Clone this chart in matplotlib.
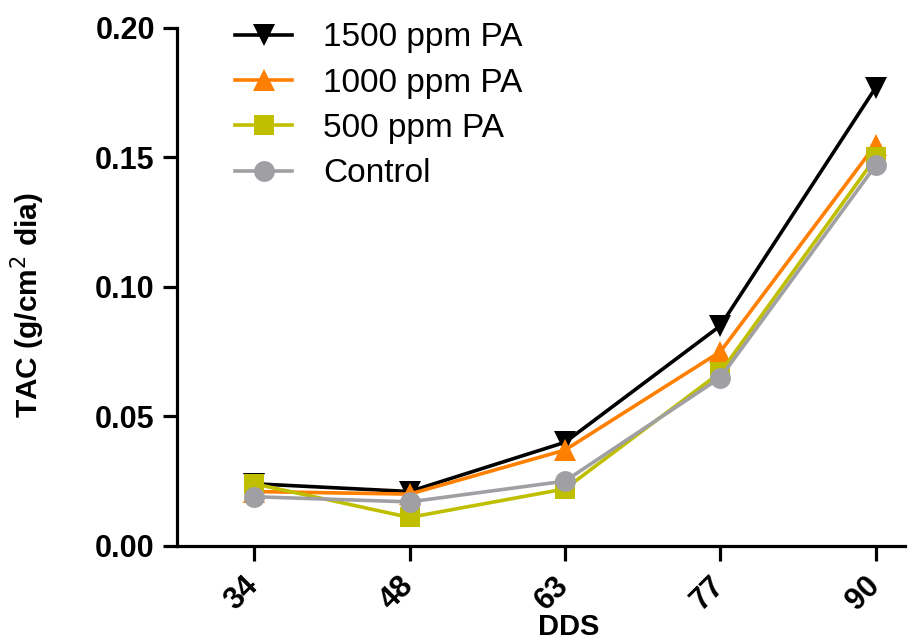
import matplotlib
matplotlib.use("Agg")
import matplotlib.pyplot as plt
import matplotlib.transforms as mtransforms
import numpy as np

plt.rcParams['font.family'] = ['Liberation Sans', 'DejaVu Sans']

days = ["34", "48", "63", "77", "90"]
pa1500 = [0.024, 0.021, 0.040, 0.085, 0.177]
pa1000 = [0.021, 0.020, 0.037, 0.075, 0.155]
pa500 = [0.024, 0.011, 0.022, 0.067, 0.150]
control = [0.019, 0.017, 0.025, 0.065, 0.147]

series_names = ["1500 ppm PA", "1000 ppm PA", "500 ppm PA", "Control"]
series_vals = [pa1500, pa1000, pa500, control]
colors = ["#000000", "#FF8000", "#BFBF00", "#A0A0A4"]
markers = ["v", "^", "s", "o"]
msizes = [16, 16, 15, 15]

fig = plt.figure(figsize=(9.08, 6.43), dpi=100)
ax = fig.add_axes([0.195, 0.151, 0.802, 0.8055])

x = np.arange(len(days))
for name, vals, c, m, ms in zip(series_names, series_vals, colors, markers, msizes):
    ax.plot(x, vals, color=c, marker=m, markersize=ms, linewidth=2.6,
            markeredgewidth=0, label=name, clip_on=False)

ax.set_xlim(-0.496, 4.19)
ax.set_ylim(0, 0.20)
ax.set_yticks([0.00, 0.05, 0.10, 0.15, 0.20])
ax.set_yticklabels(["0.00", "0.05", "0.10", "0.15", "0.20"])
ax.set_xticks(x)
ax.set_xticklabels(days, rotation=45, ha="right", va="top", rotation_mode="anchor")

for s in ["top", "right"]:
    ax.spines[s].set_visible(False)
for s in ["left", "bottom"]:
    ax.spines[s].set_linewidth(2.3)
ax.tick_params(axis="y", width=2.3, length=10, labelsize=22, pad=6)
ax.tick_params(axis="x", width=2.3, length=11, labelsize=22, pad=7)
for lab in ax.get_xticklabels() + ax.get_yticklabels():
    lab.set_fontweight("bold")
offset = mtransforms.ScaledTranslation(-0.11, 0, fig.dpi_scale_trans)
for lab in ax.get_xticklabels():
    lab.set_transform(lab.get_transform() + offset)

ax.set_ylabel("TAC (g/cm$^2$ dia)", fontsize=21.5, fontweight="bold")
ax.yaxis.set_label_coords(-0.179, 0.465)
ax.set_xlabel("DDS", fontsize=21, fontweight="bold")
ax.xaxis.set_label_coords(0.538, -0.130)

leg = ax.legend(loc="upper left", bbox_to_anchor=(0.0797, 1.011), frameon=False,
                fontsize=24, handlelength=1.71, handletextpad=0.93, labelspacing=0.43,
                borderpad=0, borderaxespad=0)

fig.savefig("out.png", dpi=100)
